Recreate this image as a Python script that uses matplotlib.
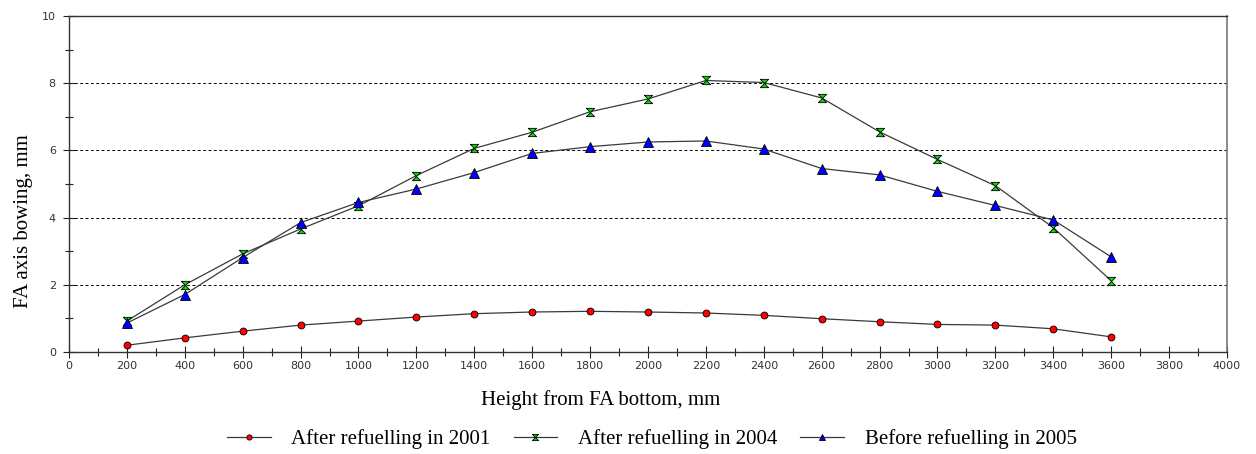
import numpy as np
import matplotlib.pyplot as plt
from matplotlib.path import Path
from matplotlib.ticker import MultipleLocator

# heights along the fuel assembly, mm
height = [200, 400, 600, 800, 1000, 1200, 1400, 1600, 1800,
          2000, 2200, 2400, 2600, 2800, 3000, 3200, 3400, 3600]

# bowing values, mm
bow_2001 = [0.20, 0.42, 0.62, 0.80, 0.92, 1.04, 1.14, 1.19, 1.21,
            1.19, 1.16, 1.09, 0.99, 0.90, 0.82, 0.80, 0.69, 0.45]
bow_2004 = [0.92, 2.00, 2.92, 3.66, 4.35, 5.25, 6.06, 6.54, 7.15,
            7.53, 8.08, 8.02, 7.56, 6.55, 5.73, 4.95, 3.70, 2.12]
bow_2005 = [0.86, 1.71, 2.81, 3.85, 4.45, 4.85, 5.34, 5.91, 6.11,
            6.25, 6.28, 6.04, 5.46, 5.27, 4.78, 4.36, 3.93, 2.83]

labels = ['After refuelling in 2001', 'After refuelling in 2004',
          'Before refuelling in 2005']

# hourglass marker for the 2004 series
hourglass = Path([(-1, 1), (1, 1), (-1, -1), (1, -1), (-1, 1)])

fig = plt.figure(figsize=(12.56, 4.54), dpi=100)
ax = fig.add_axes([0.0549, 0.2247, 0.9220, 0.7401])

line_kw = dict(color='#3a3a3a', lw=0.9, markeredgecolor='black', markeredgewidth=0.6)
ax.plot(height, bow_2001, marker='o', ms=5, markerfacecolor='#ff0000', label=labels[0], **line_kw)
ax.plot(height, bow_2004, marker=hourglass, ms=6, markerfacecolor='#00e000', label=labels[1], **line_kw)
ax.plot(height, bow_2005, marker='^', ms=6.5, markerfacecolor='#0000ff', label=labels[2], **line_kw)

ax.set_xlim(0, 4000)
ax.set_ylim(0, 10)
ax.xaxis.set_major_locator(MultipleLocator(200))
ax.xaxis.set_minor_locator(MultipleLocator(100))
ax.yaxis.set_major_locator(MultipleLocator(2))
ax.yaxis.set_minor_locator(MultipleLocator(1))

for y in [2, 4, 6, 8]:
    ax.axhline(y, color='black', lw=0.7, ls=(0, (3, 2.5)), zorder=0)

ax.tick_params(which='major', direction='inout', length=9, width=0.8, colors='#222222',
               labelsize=8, labelcolor='#333333')
ax.tick_params(which='minor', direction='inout', length=6, width=0.8, colors='#222222')
ax.tick_params(axis='x', pad=2)
ax.tick_params(axis='y', pad=5)

for side in ['left', 'bottom', 'top']:
    ax.spines[side].set_color('#333333')
    ax.spines[side].set_linewidth(1.0)
ax.spines['right'].set_color('#777777')
ax.spines['right'].set_linewidth(1.2)

serif = ['Liberation Serif', 'DejaVu Serif']
ax.set_xlabel('Height from FA bottom, mm', family=serif, fontsize=15)
ax.set_ylabel('FA axis bowing, mm', family=serif, fontsize=15)
ax.xaxis.set_label_coords(0.459, -0.112)
ax.yaxis.set_label_coords(-0.031, 0.39)

fig.legend(loc='center', bbox_to_anchor=(0.519, 0.032), ncol=3, frameon=False,
           prop={'family': serif, 'size': 15}, handlelength=2.1, columnspacing=1.1,
           handletextpad=1.0, markerscale=0.75)

fig.savefig('out.png', dpi=100)
